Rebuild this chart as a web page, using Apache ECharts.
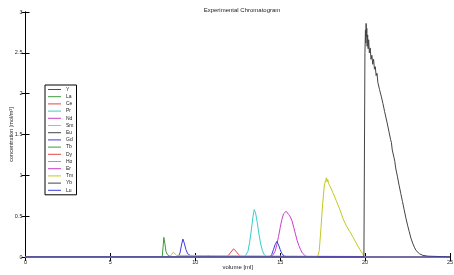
<!DOCTYPE html>
<html>
<head>
<meta charset="utf-8">
<script src="https://cdn.jsdelivr.net/npm/echarts@6/dist/echarts.min.js"></script>
<style>
  html, body { margin: 0; padding: 0; background: #fff; }
  #chart { width: 454px; height: 275px; }
</style>
</head>
<body>
<div id="chart"></div>
<script>
// element names, in legend order
var elements = ['Y', 'La', 'Ce', 'Pr', 'Nd', 'Sm', 'Eu', 'Gd', 'Tb', 'Dy', 'Ho', 'Er', 'Tm', 'Yb', 'Lu']
var xTicks = [0, 5, 10, 15, 20, 25]
var yTicks = [0, 0.5, 1, 1.5, 2, 2.5, 3]

// [volume ml, concentration mol/m3]
var yData = [[0, 0], [9.0, 0], [9.1, 0.05], [9.2, 0.16], [9.27, 0.22], [9.35, 0.17], [9.45, 0.09], [9.55, 0.04], [9.7, 0.02], [9.9, 0.01], [10.1, 0], [25, 0]]
var laData = [[0, 0], [8.05, 0], [8.1, 0.12], [8.15, 0.24], [8.18, 0.25], [8.22, 0.15], [8.27, 0.07], [8.35, 0.03], [8.5, 0.01], [8.7, 0], [25, 0]]
var ceData = [[0, 0], [11.8, 0], [11.95, 0.02], [12.1, 0.06], [12.25, 0.1], [12.4, 0.07], [12.55, 0.03], [12.7, 0], [25, 0]]
var prData = [[0, 0], [12.9, 0], [13.0, 0.02], [13.1, 0.07], [13.2, 0.18], [13.3, 0.33], [13.4, 0.5], [13.47, 0.58], [13.55, 0.54], [13.65, 0.42], [13.75, 0.28], [13.85, 0.16], [13.95, 0.08], [14.05, 0.03], [14.2, 0], [25, 0]]
var ndData = [[0, 0], [14.5, 0], [14.6, 0.02], [14.7, 0.07], [14.8, 0.15], [14.9, 0.25], [15.0, 0.36], [15.1, 0.46], [15.2, 0.53], [15.25, 0.55], [15.3, 0.52], [15.35, 0.56], [15.4, 0.54], [15.45, 0.56], [15.5, 0.52], [15.55, 0.53], [15.6, 0.49], [15.7, 0.44], [15.8, 0.36], [15.9, 0.28], [16.0, 0.2], [16.1, 0.14], [16.2, 0.09], [16.3, 0.05], [16.45, 0.02], [16.6, 0], [25, 0]]
var smData = [[0, 0], [8.5, 0], [8.6, 0.03], [8.7, 0.06], [8.78, 0.055], [8.9, 0.02], [9.0, 0], [25, 0]]
var euData = [[0, 0], [25, 0]]
var gdData = [[0, 0], [14.4, 0], [14.5, 0.03], [14.6, 0.09], [14.7, 0.15], [14.8, 0.19], [14.9, 0.15], [15.0, 0.09], [15.1, 0.04], [15.25, 0.01], [15.45, 0], [25, 0]]
var tbData = [[0, 0], [10.6, 0], [10.75, 0.01], [10.85, 0.012], [11.0, 0], [25, 0]]
var dyData = [[0, 0], [25, 0]]
var hoData = [[0, 0], [25, 0]]
var erData = [[0, 0], [25, 0]]
var tmData = [[0, 0], [17.2, 0], [17.3, 0.08], [17.4, 0.35], [17.5, 0.65], [17.6, 0.88], [17.68, 0.94], [17.72, 0.97], [17.76, 0.92], [17.8, 0.95], [17.85, 0.9], [17.95, 0.86], [18.1, 0.79], [18.3, 0.69], [18.5, 0.59], [18.7, 0.47], [18.9, 0.38], [19.1, 0.31], [19.3, 0.24], [19.5, 0.16], [19.7, 0.09], [19.85, 0.04], [19.95, 0], [25, 0]]
var ybData = [[0, 0], [19.93, 0], [19.96, 1.2], [19.99, 2.5], [20.02, 2.78], [20.04, 2.62], [20.06, 2.86], [20.08, 2.7], [20.1, 2.8], [20.12, 2.58], [20.15, 2.72], [20.18, 2.55], [20.21, 2.66], [20.25, 2.5], [20.3, 2.56], [20.35, 2.42], [20.4, 2.47], [20.45, 2.36], [20.5, 2.42], [20.55, 2.3], [20.6, 2.33], [20.65, 2.22], [20.7, 2.25], [20.75, 2.14], [20.8, 2.16], [20.85, 2.05], [20.9, 2.07], [20.95, 1.97], [21.0, 1.96], [21.05, 1.88], [21.1, 1.86], [21.15, 1.78], [21.2, 1.76], [21.3, 1.64], [21.35, 1.62], [21.4, 1.54], [21.5, 1.44], [21.55, 1.4], [21.6, 1.31], [21.7, 1.22], [21.75, 1.17], [21.8, 1.09], [21.9, 0.99], [22.0, 0.88], [22.1, 0.78], [22.2, 0.68], [22.3, 0.58], [22.4, 0.48], [22.5, 0.39], [22.6, 0.31], [22.7, 0.23], [22.8, 0.17], [22.9, 0.12], [23.0, 0.08], [23.2, 0.04], [23.4, 0.02], [23.7, 0.01], [24.5, 0.005], [25, 0]]
var luData = [[0, 0], [25, 0]]

var seriesData = [yData, laData, ceData, prData, ndData, smData, euData, gdData, tbData, dyData, hoData, erData, tmData, ybData, luData]
// matlab b g r c m y k cycle
var colors = ['#3c3cdc', '#3c9c3c', '#e04848', '#38cccc', '#cc3ccc', '#c4c820', '#444444',
  '#3c3cdc', '#3c9c3c', '#e04848', '#38cccc', '#cc3ccc', '#c4c820', '#444444', '#3c3cdc']

var font = 'Liberation Sans'

var chart = echarts.init(document.getElementById('chart'))

function axisBase(min, max, interval) {
  return {
    type: 'value',
    min: min,
    max: max,
    interval: interval,
    nameMoveOverlap: false,
    splitLine: { show: false },
    axisLine: { show: true, lineStyle: { color: '#000', width: 1 } },
    axisTick: { show: true, inside: true, length: 4, lineStyle: { color: '#000' } }
  }
}

var series = elements.map(function (name, i) {
  return {
    name: name,
    type: 'line',
    data: seriesData[i],
    symbol: 'none',
    animation: false,
    lineStyle: { width: 1, color: colors[i] },
    itemStyle: { color: colors[i] }
  }
})

chart.setOption({
  textStyle: { fontFamily: font },
  title: {
    text: 'Experimental Chromatogram',
    left: 237,
    textAlign: 'center',
    top: 2,
    textStyle: { fontSize: 6, fontWeight: 'normal', color: '#222', fontFamily: font }
  },
  legend: {
    orient: 'vertical',
    left: 45,
    top: 85,
    padding: [2, 3, 2, 3],
    icon: 'rect',
    itemWidth: 13,
    itemHeight: 1,
    itemGap: 2.2,
    borderColor: '#000',
    borderWidth: 1,
    backgroundColor: '#fff',
    textStyle: { fontSize: 5, lineHeight: 5, color: '#222', fontFamily: font },
    data: elements
  },
  grid: { left: 25.5, right: 4, top: 12, bottom: 18, outerBoundsMode: 'none' },
  xAxis: [
    Object.assign(axisBase(xTicks[0], xTicks[xTicks.length - 1], 5), {
      position: 'bottom',
      name: 'volume [ml]',
      nameLocation: 'middle',
      nameGap: 7,
      nameTextStyle: { fontSize: 6, color: '#222', verticalAlign: 'top' },
      axisLabel: { fontSize: 5.5, color: '#222', margin: 2 }
    }),
    Object.assign(axisBase(xTicks[0], xTicks[xTicks.length - 1], 5), {
      position: 'top',
      axisLabel: { show: false }
    })
  ],
  yAxis: [
    Object.assign(axisBase(yTicks[0], yTicks[yTicks.length - 1], 0.5), {
      position: 'left',
      name: 'concentration [mol/m³]',
      nameLocation: 'middle',
      nameGap: 11,
      nameTextStyle: { fontSize: 5.5, color: '#222' },
      axisLabel: { fontSize: 5.5, color: '#222', margin: 3 }
    }),
    Object.assign(axisBase(yTicks[0], yTicks[yTicks.length - 1], 0.5), {
      position: 'right',
      axisLabel: { show: false }
    })
  ],
  series: series
})
</script>
</body>
</html>
